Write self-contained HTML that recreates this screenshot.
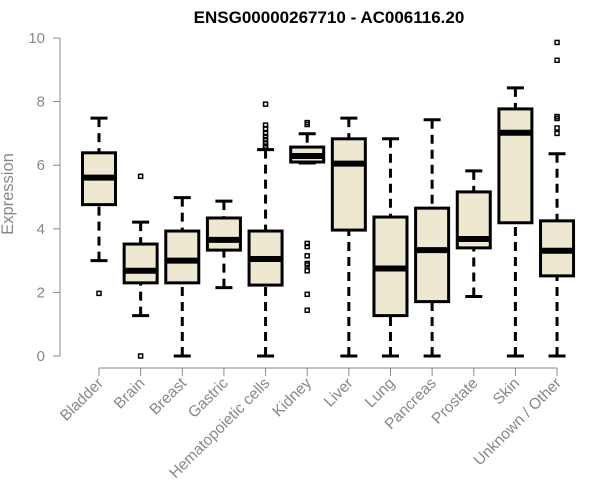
<!DOCTYPE html>
<html><head><meta charset="utf-8"><style>
body{margin:0;background:#fff;}
svg{display:block;font-family:"Liberation Sans",Arial,sans-serif;}
</style></head><body>
<svg id="chart" width="600" height="500">
<text x="329" y="23" text-anchor="middle" font-weight="bold" font-size="17" fill="#000">ENSG00000267710 - AC006116.20</text>
<text transform="translate(13,194) rotate(-90)" text-anchor="middle" font-size="16.5" fill="#888">Expression</text>
<g id="axes"></g><g id="boxes"></g>
</svg>
<script>
const categories=["Bladder","Brain","Breast","Gastric","Hematopoietic cells","Kidney","Liver","Lung","Pancreas","Prostate","Skin","Unknown / Other"];
const whiskerLow=[3.0,1.27,0,2.15,0,6.07,0,0,0,1.87,0,0];
const q1=[4.76,2.3,2.3,3.33,2.23,6.1,3.96,1.27,1.71,3.4,4.19,2.52];
const medians=[5.61,2.68,3.0,3.65,3.05,6.29,6.05,2.75,3.33,3.68,7.02,3.31];
const q3=[6.39,3.52,3.93,4.34,3.93,6.57,6.83,4.37,4.65,5.16,7.77,4.25];
const whiskerHigh=[7.48,4.21,4.98,4.87,6.49,6.99,7.48,6.83,7.43,5.82,8.43,6.36];
const outliers=[[1.97],[5.65,0],[],[],[7.92,7.26,7.15,7.0,6.9,6.8,6.7,6.6,6.55],[7.34,7.28,3.54,3.44,3.15,2.91,2.86,2.68,1.94,1.44],[],[],[],[],[],[9.86,9.3,7.53,7.47,7.17,7.0]];
const yTicks=[0,2,4,6,8,10];
const NS="http://www.w3.org/2000/svg";
const y=v=>356-v*31.8;
const x=i=>99+i*41.64;
const ax=document.getElementById('axes'),bx=document.getElementById('boxes');
function mk(p,t,a){const e=document.createElementNS(NS,t);for(const k in a)e.setAttribute(k,a[k]);p.appendChild(e);return e;}
let e=mk(ax,'line',{x1:60,x2:60,y1:y(10),y2:y(0),stroke:'#888','stroke-width':1});


yTicks.forEach(t=>{mk(ax,'line',{x1:53,x2:60,y1:y(t),y2:y(t),stroke:'#888'});
const tx=mk(ax,'text',{x:45,y:y(t)+5,'text-anchor':'end','font-size':15,fill:'#888'});tx.textContent=t;

});
e=mk(ax,'line',{x1:x(0),x2:x(11),y1:368,y2:368,stroke:'#888'});


categories.forEach((c,i)=>{mk(ax,'line',{x1:x(i),x2:x(i),y1:368,y2:376,stroke:'#888'});
const tx=mk(ax,'text',{transform:`translate(${x(i)+5},384) rotate(-45)`,'text-anchor':'end','font-size':15.5,fill:'#888'});tx.textContent=c;


const g=mk(bx,'g',{});


const cx=x(i),w=16.5;
mk(g,'line',{x1:cx,x2:cx,y1:y(whiskerLow[i]),y2:y(q1[i]),stroke:'#000','stroke-width':3,'stroke-dasharray':'9,6'});
mk(g,'line',{x1:cx,x2:cx,y1:y(whiskerHigh[i]),y2:y(q3[i]),stroke:'#000','stroke-width':3,'stroke-dasharray':'9,6'});
mk(g,'line',{x1:cx-8.5,x2:cx+8.5,y1:y(whiskerLow[i]),y2:y(whiskerLow[i]),stroke:'#000','stroke-width':3});
mk(g,'line',{x1:cx-8.5,x2:cx+8.5,y1:y(whiskerHigh[i]),y2:y(whiskerHigh[i]),stroke:'#000','stroke-width':3});
mk(g,'rect',{x:cx-w,y:y(q3[i]),width:2*w,height:y(q1[i])-y(q3[i]),fill:'#ede8cf',stroke:'#000','stroke-width':3});
mk(g,'line',{x1:cx-w,x2:cx+w,y1:y(medians[i]),y2:y(medians[i]),stroke:'#000','stroke-width':6});
outliers[i].forEach(o=>{mk(g,'rect',{x:cx-2,y:y(o)-2,width:4,height:4,fill:'none',stroke:'#000','stroke-width':1.5});});
});
</script>
</body></html>
